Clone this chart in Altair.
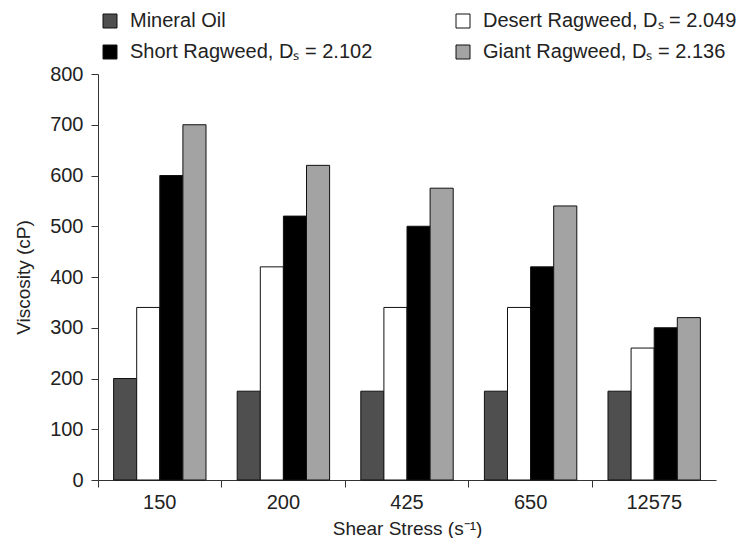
import altair as alt
import pandas as pd

categories = ["150", "200", "425", "650", "12575"]
series = [
    "Mineral Oil",
    "Desert Ragweed, Dₛ = 2.049",
    "Short Ragweed, Dₛ = 2.102",
    "Giant Ragweed, Dₛ = 2.136",
]
# legend order (two columns, row-major): Mineral / Desert, Short / Giant
legend_order = [series[0], series[2], series[1], series[3]]
mineral_oil = [200, 175, 175, 175, 175]
desert_ragweed = [340, 420, 340, 340, 260]
short_ragweed = [600, 520, 500, 420, 300]
giant_ragweed = [700, 620, 575, 540, 320]
color_map = {
    series[0]: "#4f4f4f",
    series[1]: "#ffffff",
    series[2]: "#000000",
    series[3]: "#a3a3a3",
}

rows = []
for s, vals in zip(series, [mineral_oil, desert_ragweed, short_ragweed, giant_ragweed]):
    for c, v in zip(categories, vals):
        rows.append({"stress": c, "series": s, "value": v})
df = pd.DataFrame(rows)

FONT = "Liberation Sans"
TXT = "#222222"

chart = alt.Chart(df).mark_bar(stroke="#111111", strokeWidth=1).encode(
    x=alt.X(
        "stress:N",
        sort=categories,
        scale=alt.Scale(paddingInner=0, paddingOuter=0),
        axis=alt.Axis(
            title="Shear Stress (s⁻¹)",
            labelAngle=0,
            bandPosition=0,
            labelFontSize=20,
            titleFontSize=19,
            labelFont=FONT,
            titleFont=FONT,
            titleFontWeight="normal",
            labelColor=TXT,
            titleColor=TXT,
            domainColor="#333333",
            tickColor="#333333",
            tickSize=7,
            labelPadding=5,
            titlePadding=7,
        ),
    ),
    xOffset=alt.XOffset(
        "series:N", sort=series, scale=alt.Scale(paddingOuter=0.675, paddingInner=0)
    ),
    y=alt.Y(
        "value:Q",
        scale=alt.Scale(domain=[0, 800]),
        axis=alt.Axis(
            title="Viscosity (cP)",
            values=[0, 100, 200, 300, 400, 500, 600, 700, 800],
            grid=False,
            labelFontSize=20,
            titleFontSize=19,
            labelFont=FONT,
            titleFont=FONT,
            titleFontWeight="normal",
            labelColor=TXT,
            titleColor=TXT,
            domainColor="#333333",
            tickColor="#333333",
            tickSize=7,
            labelPadding=8,
            titlePadding=16,
        ),
    ),
    fill=alt.Fill(
        "series:N",
        scale=alt.Scale(domain=legend_order, range=[color_map[s] for s in legend_order]),
        legend=alt.Legend(
            title=None,
            orient="none",
            legendX=2,
            legendY=-63,
            columns=2,
            columnPadding=80,
            rowPadding=11,
            symbolType="square",
            symbolSize=196,
            symbolStrokeColor="#111111",
            symbolStrokeWidth=1,
            labelFontSize=20,
            labelFont=FONT,
            labelColor=TXT,
            labelOffset=10,
            labelLimit=400,
        ),
    ),
).properties(
    width=618, height=406, padding={"left": 6, "top": 3, "right": 0, "bottom": 0}
).configure_view(stroke=None)

chart.save("out.html", embed_options={"renderer": "svg", "actions": False})
